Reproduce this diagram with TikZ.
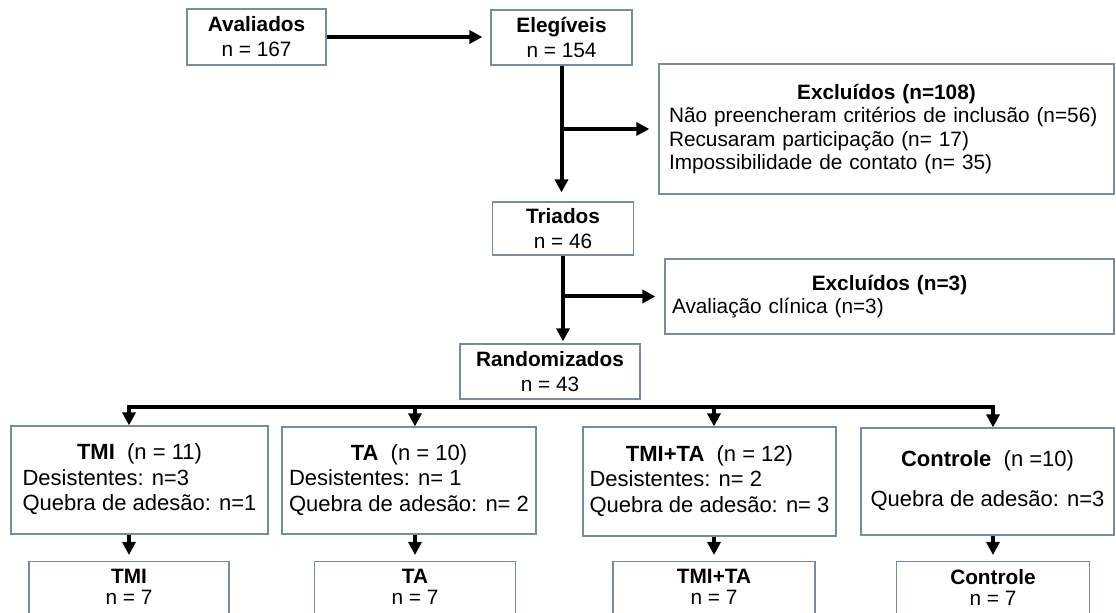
\documentclass[tikz,border=0pt]{standalone}
\usepackage{fontspec}
\setmainfont{Liberation Sans}
\usetikzlibrary{arrows.meta}
\definecolor{borda}{RGB}{120,140,160}

\begin{document}
\begin{tikzpicture}[x=0.5pt,y=-0.5pt,line join=miter,>={Triangle[length=6.5pt,width=6.5pt]},
	caixa/.style={draw=borda,line width=0.6pt,fill=white,inner sep=0pt,align=center,font=\fontsize{10.4}{12.5}\selectfont},
	lista/.style={caixa,text width=217.5pt,align=left,font=\fontsize{10.4}{11.7}\selectfont},
	grupo/.style={caixa,font=\fontsize{11}{12.75}\selectfont},
	seta/.style={line width=2pt,->},
	final/.style={caixa,anchor=north,inner ysep=4pt,text depth=30pt,font=\fontsize{10.4}{10.5}\selectfont}]
	\useasboundingbox (0,0) rectangle (1116,613);
	\clip (0,0) rectangle (1116,613);
	\node[caixa,minimum width=69.5pt,minimum height=28pt] (aval) at (256.5,37) {\textbf{Avaliados}\\n = 167};
	\node[caixa,minimum width=70.5pt,minimum height=27.5pt] (eleg) at (561.5,37.5) {\textbf{Elegíveis}\\n = 154};
	\node[lista,minimum width=227.5pt,minimum height=65pt] (excl1) at (886.5,129) {\makebox[\linewidth]{\textbf{Excluídos (n=108)}}\\Não preencheram critérios de inclusão (n=56)\\Recusaram participação (n= 17)\\Impossibilidade de contato (n= 35)};
	\node[caixa,minimum width=70.5pt,minimum height=26.5pt] (triad) at (563,228.5) {\textbf{Triados}\\n = 46};
	\node[lista,minimum width=224.5pt,minimum height=37.5pt] (excl2) at (889.5,296.5) {\makebox[\linewidth]{\textbf{Excluídos (n=3)}}\\Avaliação clínica (n=3)};
	\node[caixa,minimum width=90pt,minimum height=27.5pt] (rand) at (550,371.5) {\textbf{Randomizados}\\n = 43};
	\node[grupo,minimum width=128.5pt,minimum height=54pt] (tmi) at (139.5,480) {\begin{tabular}{@{}l@{}}\multicolumn{1}{@{}c@{}}{\textbf{TMI}\ \ (n = 11)}\\Desistentes: n=3\\Quebra de adesão: n=1\end{tabular}};
	\node[grupo,minimum width=127pt,minimum height=53.5pt] (ta) at (409,480.5) {\begin{tabular}{@{}l@{}}\multicolumn{1}{@{}c@{}}{\textbf{TA}\ \ (n = 10)}\\Desistentes: n= 1\\Quebra de adesão: n= 2\end{tabular}};
	\node[grupo,minimum width=126.5pt,minimum height=54.5pt] (tmita) at (709.5,481.5) {\begin{tabular}{@{}l@{}}\multicolumn{1}{@{}c@{}}{\textbf{TMI+TA}\ \ (n = 12)}\\Desistentes: n= 2\\Quebra de adesão: n= 3\end{tabular}};
	\node[grupo,minimum width=126.5pt,minimum height=53.5pt] (ctl) at (987.5,481.5) {\begin{tabular}{@{}l@{}}\multicolumn{1}{@{}c@{}}{\textbf{Controle}\ \ (n =10)}\\[7pt]Quebra de adesão: n=3\end{tabular}};
	\node[final,minimum width=100pt] (tmif) at (129,561) {\textbf{TMI}\\n = 7};
	\node[final,minimum width=100.5pt] (taf) at (415,561) {\textbf{TA}\\n = 7};
	\node[final,minimum width=101pt] (tmitaf) at (714,561) {\textbf{TMI+TA}\\n = 7};
	\node[final,minimum width=96.5pt] (ctlf) at (993,561) {\textbf{Controle}\\n = 7};
	\coordinate (bus) at (560,407);
	\draw[seta,shorten >=4pt] (aval.east) -- (aval.east -| eleg.west);
	\draw[seta,shorten >=4.5pt] (eleg.south) -- (eleg.south |- triad.north);
	\draw[seta,shorten >=4.5pt] (eleg.south |- excl1.west) -- (excl1.west);
	\draw[seta,shorten >=1pt] (triad.south) -- (triad.south |- rand.north);
	\draw[seta,shorten >=4.5pt] (triad.south |- excl2.west) -- (excl2.west);
	\draw[seta,<->] (tmif.north |- tmi.north) |- (bus) -| (ctlf.north |- ctl.north);
	\draw[seta] (taf.north |- bus) -- (taf.north |- ta.north);
	\draw[seta] (tmitaf.north |- bus) -- (tmitaf.north |- tmita.north);
	\foreach \g/\f in {tmi/tmif,ta/taf,tmita/tmitaf,ctl/ctlf}
		\draw[seta,shorten >=3pt] (\f.north |- \g.south) -- (\f.north);
\end{tikzpicture}
\end{document}
